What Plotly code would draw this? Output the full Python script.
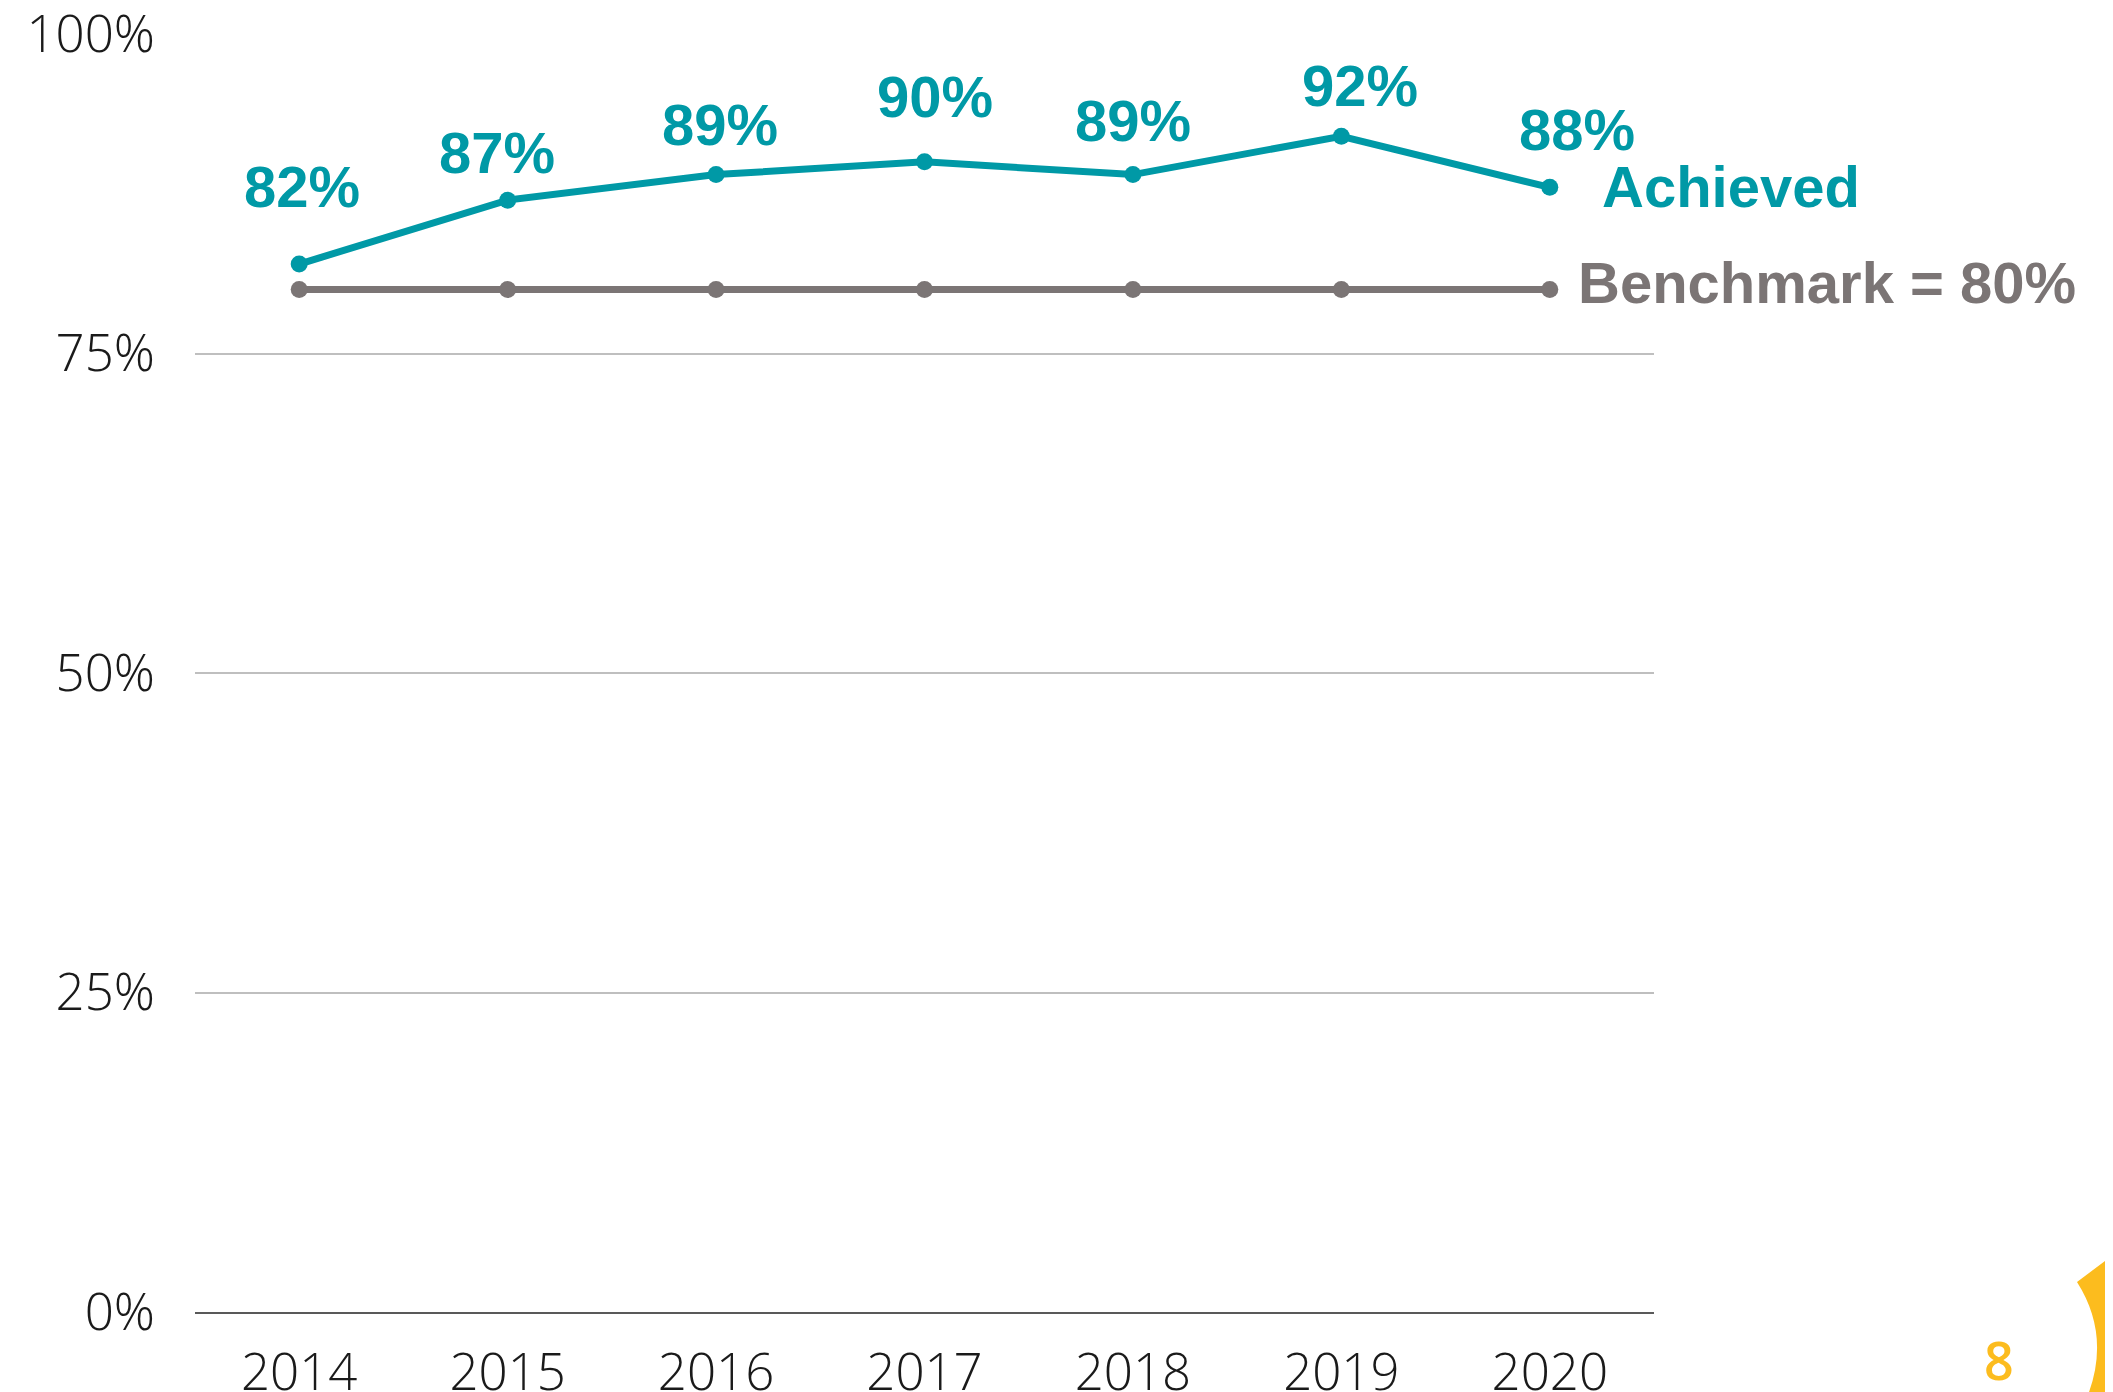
import plotly.graph_objects as go

years = ["2014", "2015", "2016", "2017", "2018", "2019", "2020"]
achieved = [0.82, 0.87, 0.89, 0.90, 0.89, 0.92, 0.88]
benchmark = [0.80, 0.80, 0.80, 0.80, 0.80, 0.80, 0.80]
y_ticks = [0, 0.25, 0.5, 0.75, 1.0]
y_tick_labels = ["0%", "25%", "50%", "75%", "100%"]
achieved_labels = ["82%", "87%", "89%", "90%", "89%", "92%", "88%"]
page_number = "8"

# label offsets (pixels) for the value labels
label_dx = [3, -11, 4, 10, 0, 19, 27]
label_dy = [78, 48, 50, 65, 54, 51, 58]

TEAL = "#0099A6"
GREY = "#7B7575"
YELLOW = "#FCBC1E"

OFF = 8  # page body margin
W, H = 2113 - OFF, 1392 - OFF
L, T = 195 - OFF, 34 - OFF
pw, ph = 1459, 1278
R, B = W - L - pw, H - T - ph

xpos = list(range(len(years)))

fig = go.Figure()
fig.add_trace(go.Scatter(x=xpos, y=benchmark, mode="lines+markers",
                         line=dict(color=GREY, width=7), marker=dict(size=17, color=GREY),
                         cliponaxis=False, hoverinfo="skip"))
fig.add_trace(go.Scatter(x=xpos, y=achieved, mode="lines+markers",
                         line=dict(color=TEAL, width=7), marker=dict(size=17, color=TEAL),
                         cliponaxis=False, hoverinfo="skip"))

LAB_FAMILY = "Liberation Sans, Arial, sans-serif"
for x, y, t, dx, dy in zip(xpos, achieved, achieved_labels, label_dx, label_dy):
    fig.add_annotation(x=x, y=y, xref="x", yref="y", text=f"<b>{t}</b>", showarrow=False,
                       xshift=dx, yshift=dy, xanchor="center", yanchor="middle",
                       font=dict(family=LAB_FAMILY, size=58, color=TEAL))

fig.add_annotation(x=xpos[-1], y=achieved[-1], xref="x", yref="y", text="<b>Achieved</b>",
                   showarrow=False, xshift=50, yshift=1, xanchor="left", yanchor="middle",
                   font=dict(family=LAB_FAMILY, size=58, color=TEAL))
fig.add_annotation(x=xpos[-1], y=benchmark[-1], xref="x", yref="y",
                   text="<b>Benchmark = 80%</b>", showarrow=False,
                   xshift=26, yshift=7, xanchor="left", yanchor="middle",
                   font=dict(family=LAB_FAMILY, size=58, color=GREY))


def px(x):  # screen pixel -> paper fraction
    return (x - OFF - L) / pw


def py(y):
    return (OFF + T + ph - y) / ph


path = (f"M {px(2125)},{py(1246)} L {px(2077)},{py(1282)} "
        f"Q {px(2112)},{py(1337)} {px(2086)},{py(1400)} L {px(2125)},{py(1400)} Z")
fig.add_shape(type="path", path=path, xref="paper", yref="paper",
              fillcolor=YELLOW, line=dict(width=0), layer="above")
fig.add_annotation(xref="paper", yref="paper", x=px(1999), y=py(1359), text=page_number,
                   showarrow=False, xanchor="center", yanchor="middle",
                   font=dict(family="Open Sans, sans-serif", size=52, color=YELLOW, weight=600))

tick_font = dict(family="Open Sans Light, Open Sans, sans-serif", size=51, color="#1a1a1a",
                 weight=300)
fig.update_layout(
    width=W, height=H, showlegend=False,
    margin=dict(l=L, r=R, t=T, b=B, autoexpand=False),
    paper_bgcolor="white", plot_bgcolor="white",
    xaxis=dict(range=[-0.5, len(years) - 0.5], tickvals=xpos, ticktext=years,
               showgrid=False, zeroline=False,
               showline=True, linecolor="#595959", linewidth=2, ticks="",
               tickfont=tick_font, ticklabelstandoff=15, ticklabeloverflow="allow"),
    yaxis=dict(range=[0, 1], tickvals=y_ticks, ticktext=y_tick_labels, showgrid=True,
               gridcolor="#BFBFBF", gridwidth=2, zeroline=False, showline=False, ticks="",
               tickfont=tick_font, ticklabelstandoff=39, ticklabeloverflow="allow"),
)

fig.write_html("out.html")
